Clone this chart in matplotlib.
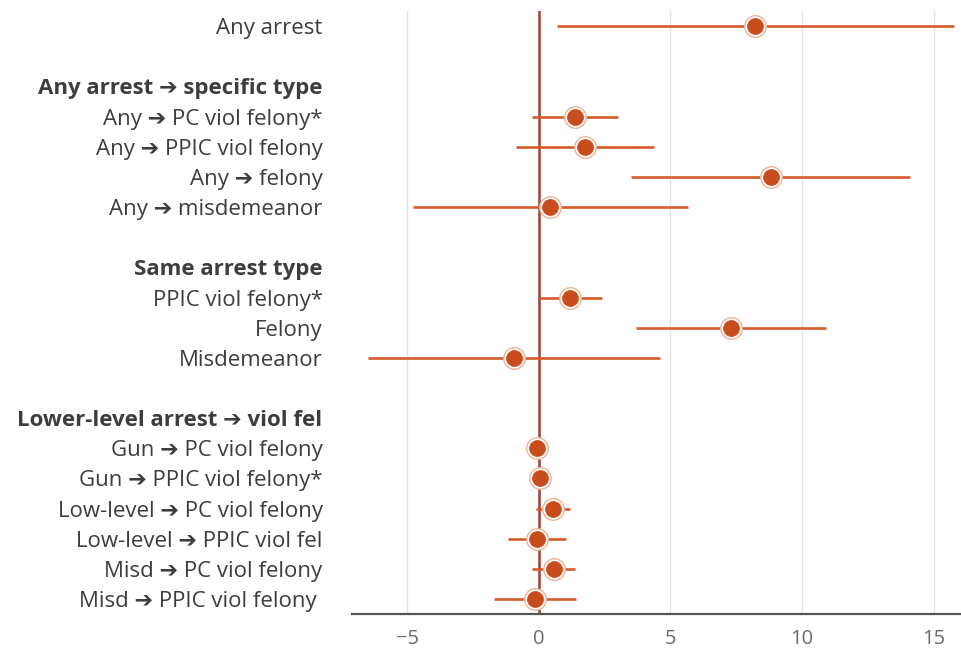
import matplotlib
matplotlib.use("Agg")
import matplotlib.pyplot as plt

plt.rcParams["font.family"] = ["Open Sans", "DejaVu Sans"]

# rows top to bottom; None marks a blank spacer row
labels = [
    "Any arrest",
    None,
    "Any arrest ➔ specific type",
    "Any ➔ PC viol felony*",
    "Any ➔ PPIC viol felony",
    "Any ➔ felony",
    "Any ➔ misdemeanor",
    None,
    "Same arrest type",
    "PPIC viol felony*",
    "Felony",
    "Misdemeanor",
    None,
    "Lower-level arrest ➔ viol fel",
    "Gun ➔ PC viol felony",
    "Gun ➔ PPIC viol felony*",
    "Low-level ➔ PC viol felony",
    "Low-level ➔ PPIC viol fel",
    "Misd ➔ PC viol felony",
    "Misd ➔ PPIC viol felony ",
]
headers = ["Any arrest ➔ specific type", "Same arrest type", "Lower-level arrest ➔ viol fel"]

# point estimates and confidence bounds (None for rows without data)
estimate = [8.22, None, None, 1.37, 1.75, 8.83, 0.44, None, None, 1.20, 7.30, -0.93,
            None, None, -0.08, 0.05, 0.54, -0.05, 0.56, -0.14]
lower = [0.71, None, None, -0.27, -0.87, 3.51, -4.77, None, None, 0.0, 3.70, -6.49,
         None, None, -0.30, -0.20, -0.09, -1.16, -0.27, -1.70]
upper = [15.75, None, None, 3.00, 4.38, 14.10, 5.66, None, None, 2.42, 10.92, 4.61,
         None, None, 0.15, 0.30, 1.17, 1.02, 1.36, 1.43]

xticks = [-5, 0, 5, 10, 15]

dot = "#c84c1c"
bar = "#d65b2b"
ring = "#efb396"

fig = plt.figure(figsize=(9.61, 6.52), dpi=100)
ax = fig.add_axes([0.366, 0.058, 0.634, 0.925])

rows = list(range(len(labels)))
for y, est, lo, hi in zip(rows, estimate, lower, upper):
    if est is None:
        continue
    ax.plot([lo, hi], [y, y], color=bar, lw=1.9, solid_capstyle="butt", zorder=3)
    ax.plot(est, y, "o", ms=15.5, mfc="white", mec=ring, mew=1.0, zorder=4)
    ax.plot(est, y, "o", ms=11.5, mfc=dot, mec=dot, mew=0.5, zorder=5)

ax.axvline(0, color="#9c4a44", lw=1.9, zorder=2)
for t in xticks:
    if t != 0:
        ax.axvline(t, color="#e3e3e3", lw=1.0, zorder=1)

ax.set_xlim(-7.1, 16.03)
ax.set_ylim(len(labels) - 0.5, -0.5)
ax.set_xticks(xticks)
ax.set_xticklabels([f"\u2212{abs(t)}" if t < 0 else str(t) for t in xticks])
ax.tick_params(axis="x", length=0, pad=11, labelsize=14.5, labelcolor="#6b6b6b")

ax.set_yticks(rows)
ax.set_yticklabels(["" if l is None else l for l in labels])
ax.tick_params(axis="y", length=0, pad=21, labelsize=16, labelcolor="#3d3d3d")
for tl in ax.get_yticklabels():
    if tl.get_text() in headers:
        tl.set_fontweight("bold")

for side in ["left", "right", "top"]:
    ax.spines[side].set_visible(False)
ax.spines["bottom"].set_color("#555555")
ax.spines["bottom"].set_linewidth(1.6)

fig.savefig("out.png", dpi=100)
